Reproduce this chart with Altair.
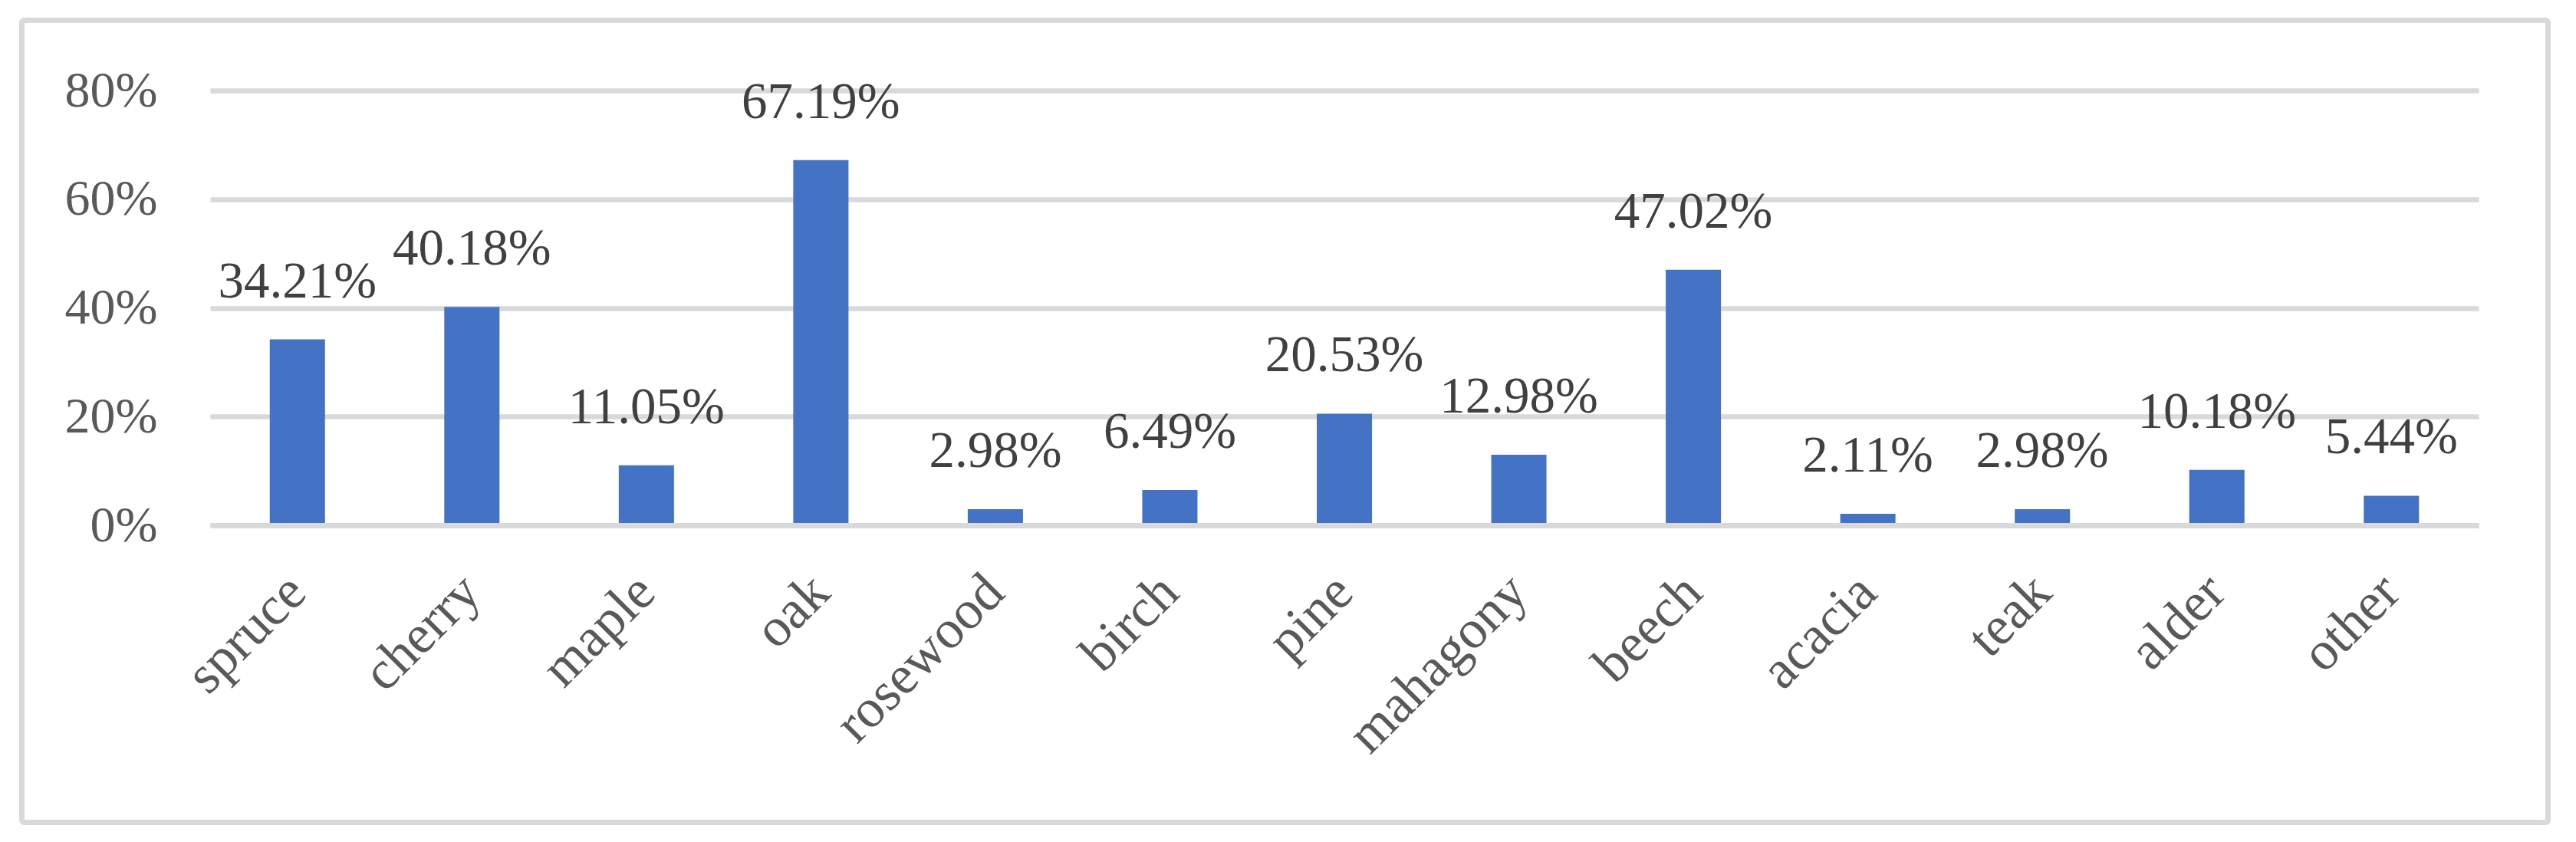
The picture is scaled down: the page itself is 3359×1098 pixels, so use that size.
import altair as alt
import pandas as pd

# Data
categories = ["spruce", "cherry", "maple", "oak", "rosewood", "birch", "pine",
              "mahagony", "beech", "acacia", "teak", "alder", "other"]
shares = [0.3421, 0.4018, 0.1105, 0.6719, 0.0298, 0.0649, 0.2053,
          0.1298, 0.4702, 0.0211, 0.0298, 0.1018, 0.0544]
y_ticks = [0.0, 0.2, 0.4, 0.6, 0.8]

df = pd.DataFrame({"category": categories, "share": shares})

FONT = "Liberation Serif"
GRID = "#d9d9d9"

x_enc = alt.X(
    "category:N",
    sort=categories,
    scale=alt.Scale(paddingInner=0.6835, paddingOuter=0.34175),
    axis=alt.Axis(
        title=None,
        labelAngle=-45,
        labelAlign="right",
        labelBaseline="middle",
        labelPadding=76,
        labelLimit=0,
        labelFont=FONT,
        labelFontSize=71,
        labelColor="#595959",
        ticks=False,
        tickSize=0,
        domain=True,
        domainColor=GRID,
        domainWidth=7,
        grid=False,
        zindex=1,
    ),
)

y_enc = alt.Y(
    "share:Q",
    scale=alt.Scale(domain=[0, 0.8], nice=False),
    axis=alt.Axis(
        title=None,
        values=y_ticks,
        format=".0%",
        labelFont=FONT,
        labelFontSize=66,
        labelColor="#595959",
        labelPadding=69,
        ticks=False,
        tickSize=0,
        domain=False,
        grid=True,
        gridColor=GRID,
        gridWidth=6.7,
    ),
)

bars = alt.Chart(df).mark_bar(color="#4472C4").encode(x=x_enc, y=y_enc)

labels = alt.Chart(df).mark_text(
    font=FONT, fontSize=67, color="#404040",
    baseline="alphabetic", align="center", dy=-55,
).encode(
    x=alt.X("category:N", sort=categories),
    y=alt.Y("share:Q"),
    text=alt.Text("share:Q", format=".2%"),
)

border = alt.Chart(alt.Data(values=[{"b": 1}])).mark_rect(
    fill=None, fillOpacity=0, stroke=GRID, strokeWidth=7, cornerRadius=3,
).encode(
    x=alt.value(-245.5), x2=alt.value(3048.5),
    y=alt.value(-91.5), y2=alt.value(954.5),
)

chart = alt.layer(border, bars, labels).properties(
    width=2958,
    height=567,
    autosize=alt.AutoSizeParams(type="none"),
    padding={"left": 266, "top": 110, "right": 98, "bottom": 403},
    background="white",
).configure_view(stroke=None)

chart.save("out.html", embed_options={"renderer": "svg", "actions": False})
